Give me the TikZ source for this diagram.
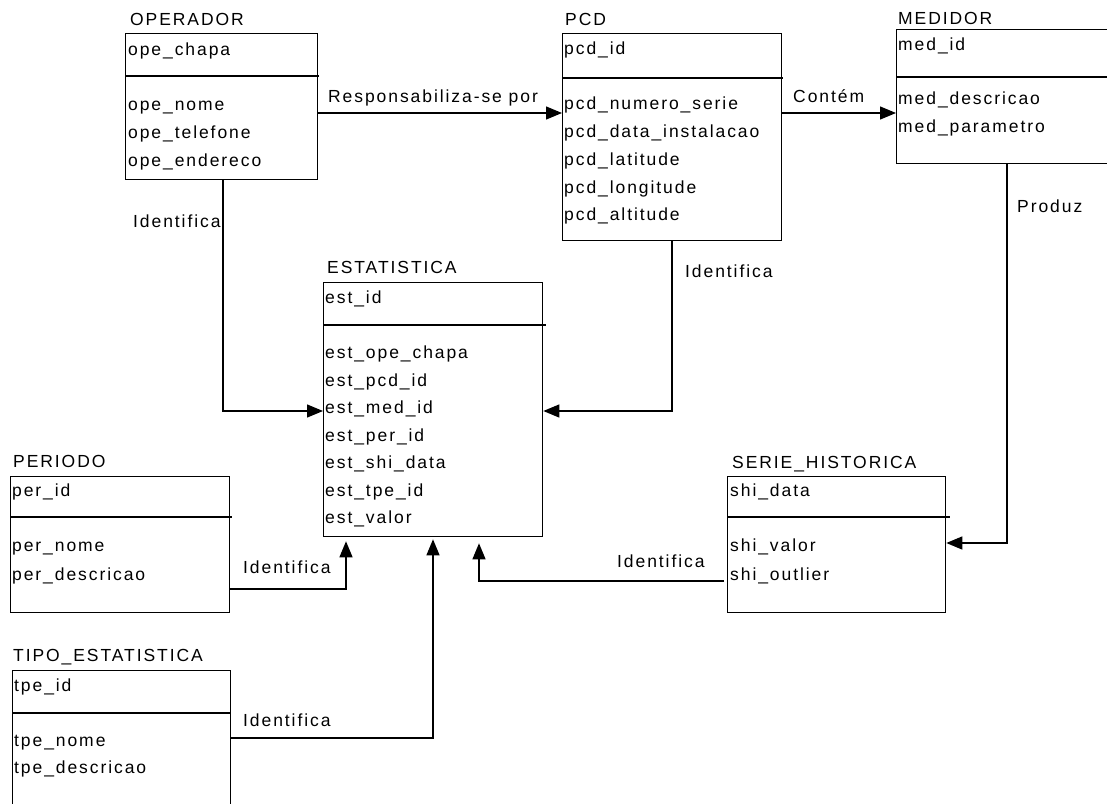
\documentclass[tikz,border=0pt]{standalone}
\usepackage{fontspec}
\setmainfont{Liberation Sans}[LetterSpace=11]
\usetikzlibrary{arrows.meta}
\tikzset{
  ent/.style={draw, line width=1.3pt, inner sep=0pt, anchor=north west},
  txt/.style={anchor=base west, inner sep=0pt, font=\fontsize{17.5}{20}\selectfont},
  sepline/.style={line width=1.3pt},
  conn/.style={line width=1.3pt},
  arr/.style={conn, -{Triangle[length=16pt,width=13pt]}},
}
\begin{document}
\begin{tikzpicture}[x=1pt,y=-1pt]
\useasboundingbox (0,0) rectangle (1107,803);
\fill[white] (0,0) rectangle (1107,803);
\clip (0,0) rectangle (1107,803);

% entity boxes
\node[ent, minimum width=192pt, minimum height=146pt] (ope) at (125,33) {};
\node[ent, minimum width=219pt, minimum height=207pt] (pcd) at (562,33) {};
\node[ent, minimum width=224pt, minimum height=134pt] (med) at (896,29) {};
\node[ent, minimum width=219pt, minimum height=254pt] (est) at (323,282) {};
\node[ent, minimum width=219pt, minimum height=136pt] (per) at (10,476) {};
\node[ent, minimum width=218pt, minimum height=160pt] (tpe) at (12,670) {};
\node[ent, minimum width=218pt, minimum height=136pt] (shi) at (727,476) {};

% separators
\draw[sepline] (125,76) -- (319,76);
\draw[sepline] (562,78) -- (783,78);
\draw[sepline] (896,77) -- (1120,77);
\draw[sepline] (323,325) -- (546,325);
\draw[sepline] (10,517) -- (232,517);
\draw[sepline] (12,713) -- (230,713);
\draw[sepline] (727,517) -- (950,517);

% OPERADOR
\node[txt] (opeT) at (130,25) {OPERADOR};
\node[txt] (ope1) at (128,55) {ope\_chapa};
\node[txt] (ope2) at (128,110) {ope\_nome};
\node[txt] (ope3) at (128,138) {ope\_telefone};
\node[txt] (ope4) at (128,166) {ope\_endereco};

% PCD
\node[txt] (pcdT) at (565,25) {PCD};
\node[txt] (pcd1) at (564,54) {pcd\_id};
\node[txt] (pcd2) at (564,109) {pcd\_numero\_serie};
\node[txt] (pcd3) at (564,137) {pcd\_data\_instalacao};
\node[txt] (pcd4) at (564,165) {pcd\_latitude};
\node[txt] (pcd5) at (564,193) {pcd\_longitude};
\node[txt] (pcd6) at (564,220) {pcd\_altitude};

% MEDIDOR
\node[txt] (medT) at (898,24) {MEDIDOR};
\node[txt] (med1) at (898,50) {med\_id};
\node[txt] (med2) at (898,104) {med\_descricao};
\node[txt] (med3) at (898,132) {med\_parametro};

% ESTATISTICA
\node[txt] (estT) at (327,273) {ESTATISTICA};
\node[txt] (est1) at (325,303) {est\_id};
\node[txt] (est2) at (325,358) {est\_ope\_chapa};
\node[txt] (est3) at (325,386) {est\_pcd\_id};
\node[txt] (est4) at (325,413) {est\_med\_id};
\node[txt] (est5) at (325,441) {est\_per\_id};
\node[txt] (est6) at (325,468) {est\_shi\_data};
\node[txt] (est7) at (325,496) {est\_tpe\_id};
\node[txt] (est8) at (325,523) {est\_valor};

% PERIODO
\node[txt] (perT) at (13,467) {PERIODO};
\node[txt] (per1) at (12,496) {per\_id};
\node[txt] (per2) at (12,551) {per\_nome};
\node[txt] (per3) at (12,580) {per\_descricao};

% TIPO_ESTATISTICA
\node[txt] (tpeT) at (13,661) {TIPO\_ESTATISTICA};
\node[txt] (tpe1) at (14,691) {tpe\_id};
\node[txt] (tpe2) at (14,746) {tpe\_nome};
\node[txt] (tpe3) at (14,773) {tpe\_descricao};

% SERIE_HISTORICA
\node[txt] (shiT) at (732,468) {SERIE\_HISTORICA};
\node[txt] (shi1) at (730,496) {shi\_data};
\node[txt] (shi2) at (730,551) {shi\_valor};
\node[txt] (shi3) at (730,580) {shi\_outlier};

% helper coordinates
\coordinate (yA) at (0,113);
\coordinate (xO) at (223,0);
\coordinate (yE) at (0,411);
\coordinate (xP) at (672,0);
\coordinate (xM) at (1007,0);
\coordinate (yS) at (0,543);
\coordinate (xPer) at (346,0);
\coordinate (yPer) at (0,589);
\coordinate (xT) at (433,0);
\coordinate (yT) at (0,738);
\coordinate (xSh) at (479,0);
\coordinate (ySh) at (0,581);

% connectors
\draw[arr] (ope.east |- yA) -- (pcd.west |- yA);
\draw[arr] (pcd.east |- yA) -- (med.west |- yA);
\draw[arr] (ope.south -| xO) |- (est.west |- yE);
\draw[arr] (pcd.south -| xP) |- (est.east |- yE);
\draw[arr] (med.south -| xM) |- (shi.east |- yS);
\draw[arr, shorten >=4pt] (per.east |- yPer) -| (est.south -| xPer);
\draw[arr, shorten >=2pt] (tpe.east |- yT) -| (est.south -| xT);
\draw[arr, shorten >=6pt, shorten <=3pt] (shi.west |- ySh) -| (est.south -| xSh);

% connector labels
\node[txt] (lResp) at (328,102) {Responsabiliza-se por};
\node[txt] (lCont) at (793,102) {Contém};
\node[txt] (lIdO) at (133,227) {Identifica};
\node[txt] (lIdP) at (685,277) {Identifica};
\node[txt] (lProd) at (1017,212) {Produz};
\node[txt] (lIdPer) at (243,573) {Identifica};
\node[txt] (lIdT) at (243,726) {Identifica};
\node[txt] (lIdS) at (617,567) {Identifica};
\end{tikzpicture}
\end{document}
